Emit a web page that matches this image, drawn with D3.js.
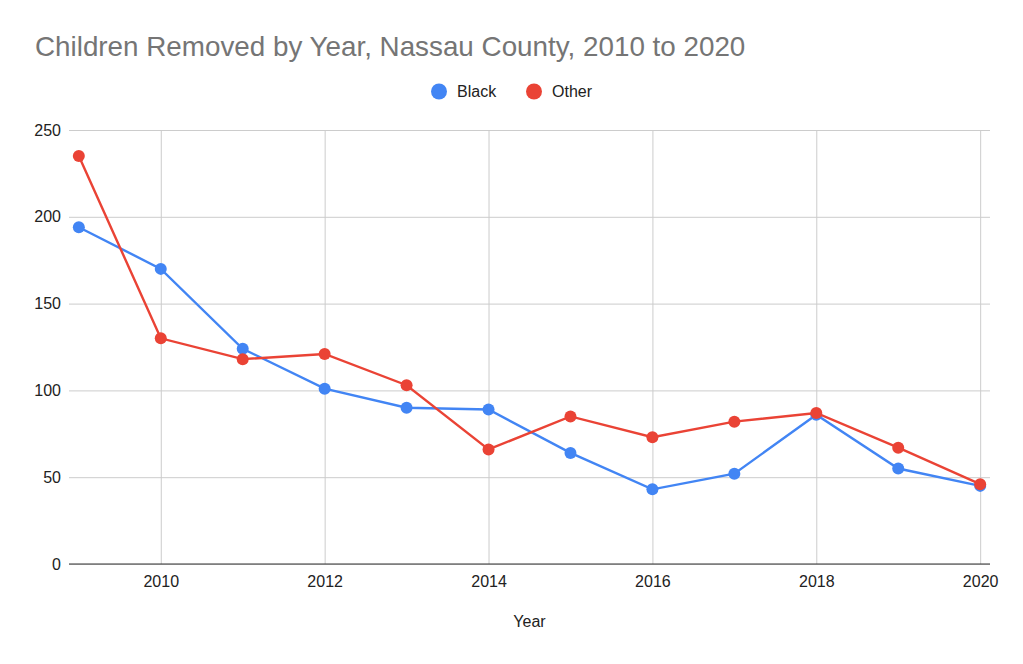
<!DOCTYPE html>
<html>
<head>
<meta charset="utf-8">
<script src="https://cdn.jsdelivr.net/npm/d3@7"></script>
<style>
  body { margin: 0; background: #fff; }
  text { font-family: "Liberation Sans", Arial, sans-serif; }
</style>
</head>
<body>
<script>
// Values
const years = [2009, 2010, 2011, 2012, 2013, 2014, 2015, 2016, 2017, 2018, 2019, 2020]
const black = [194, 170, 124, 101, 90, 89, 64, 43, 52, 86, 55, 45]
const other = [235, 130, 118, 121, 103, 66, 85, 73, 82, 87, 67, 46]
const xTicks = [2010, 2012, 2014, 2016, 2018, 2020]
const yTicks = [0, 50, 100, 150, 200, 250]

const series = [
  { name: 'Black', values: black, color: '#4285f4' },
  { name: 'Other', values: other, color: '#ea4335' }
]

const W = 1023, H = 664
const plot = { left: 69, right: 990, top: 130, bottom: 564 }

const svg = d3.select('body').append('svg')
  .attr('width', W)
  .attr('height', H)

const x = d3.scaleLinear()
  .domain([2008.88, 2020.12])
  .range([plot.left, plot.right])

const y = d3.scaleLinear()
  .domain([0, 250])
  .range([plot.bottom, plot.top])

// title
svg.append('text')
  .attr('x', 35)
  .attr('y', 56)
  .attr('font-size', 27.8)
  .attr('fill', '#757575')
  .text('Children Removed by Year, Nassau County, 2010 to 2020')

// legend
const legend = svg.append('g')
const legendX = [439, 534]
series.forEach((s, i) => {
  legend.append('circle')
    .attr('cx', legendX[i])
    .attr('cy', 91.5)
    .attr('r', 8)
    .attr('fill', s.color)
  legend.append('text')
    .attr('x', legendX[i] + 18)
    .attr('y', 97)
    .attr('font-size', 16)
    .attr('fill', '#222')
    .text(s.name)
})

// horizontal gridlines + y labels
const yAxis = d3.axisLeft(y)
  .tickValues(yTicks)
  .tickSize(-(plot.right - plot.left))
  .tickPadding(8)

svg.append('g')
  .attr('transform', `translate(${plot.left},0)`)
  .call(yAxis)
  .call(g => g.select('.domain').remove())
  .call(g => g.selectAll('.tick line').attr('stroke', '#cccccc'))
  .call(g => g.selectAll('.tick text')
    .attr('font-size', 16)
    .attr('fill', '#222')
    .attr('font-family', '"Liberation Sans", Arial, sans-serif'))

// vertical gridlines + x labels
const xAxis = d3.axisBottom(x)
  .tickValues(xTicks)
  .tickFormat(d3.format('d'))
  .tickSize(-(plot.bottom - plot.top))
  .tickPadding(12)

svg.append('g')
  .attr('transform', `translate(0,${plot.bottom})`)
  .call(xAxis)
  .call(g => g.select('.domain').remove())
  .call(g => g.selectAll('.tick line').attr('stroke', '#cccccc'))
  .call(g => g.selectAll('.tick text')
    .attr('font-size', 16)
    .attr('fill', '#222')
    .attr('font-family', '"Liberation Sans", Arial, sans-serif'))

// baseline
svg.append('line')
  .attr('x1', plot.left)
  .attr('x2', plot.right)
  .attr('y1', y(0))
  .attr('y2', y(0))
  .attr('stroke', '#333')
  .attr('stroke-width', 1.2)

// x axis title
svg.append('text')
  .attr('x', (plot.left + plot.right) / 2)
  .attr('y', 627)
  .attr('text-anchor', 'middle')
  .attr('font-size', 16)
  .attr('fill', '#222')
  .text('Year')

// lines and points
const line = d3.line()
  .x((d, i) => x(years[i]))
  .y(d => y(d))

series.forEach(s => {
  const g = svg.append('g')
  g.append('path')
    .datum(s.values)
    .attr('d', line)
    .attr('fill', 'none')
    .attr('stroke', s.color)
    .attr('stroke-width', 2.4)
  g.selectAll('circle')
    .data(s.values)
    .join('circle')
    .attr('cx', (d, i) => x(years[i]))
    .attr('cy', d => y(d))
    .attr('r', 6)
    .attr('fill', s.color)
})
</script>
</body>
</html>
